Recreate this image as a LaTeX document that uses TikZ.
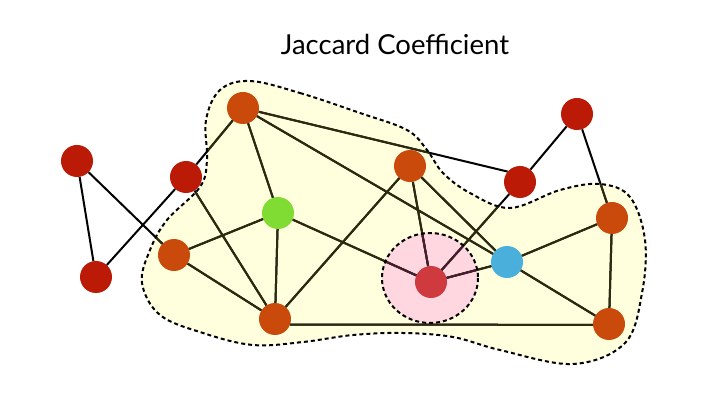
\documentclass[tikz,border=0pt]{standalone}
\usepackage{fontspec}
\setmainfont{Lato}
\definecolor{blobyellow}{RGB}{255,255,222}
\definecolor{pinkfill}{RGB}{255,215,225}
\definecolor{nred}{RGB}{186,26,6}
\definecolor{norange}{RGB}{201,74,11}
\definecolor{ngreen}{RGB}{128,220,50}
\definecolor{nblue}{RGB}{75,175,220}
\definecolor{ncenter}{RGB}{207,58,62}
\definecolor{edgeolive}{RGB}{45,42,16}
\definecolor{edgepurple}{RGB}{70,30,45}
\tikzset{
  vtx/.style={circle, inner sep=0pt, minimum size=32pt},
  edgeline/.style={line width=2pt},
  blobline/.style={line width=2pt, dash pattern=on 4pt off 3pt}
}
\def\blobpath{plot[smooth cycle, tension=0.6] coordinates {(250,81) (300,93) (360,113) (407,130) (427,150) (443,173) (470,193) (510,208) (560,190) (600,184) (630,197) (645,240) (642,293) (625,343) (573,364) (500,350) (453,337) (403,333) (353,335) (303,342) (253,345) (203,333) (160,315) (142,283) (150,250) (167,220) (200,187) (207,160) (206,120) (220,90)}}
\newcommand\alledges[1]{%
  \draw[edgeline,#1] (A)--(B) (A)--(E) (B)--(C) (C)--(D) (C)--(G)
    (D)--(F) (D)--(J.140) (D)--(L) (E)--(F) (E)--(G) (F)--(G) (F)--(I)
    (G)--(H) (G.-20)--(N.183) (H)--(I) (H)--(L) (J)--(I) (I)--(L) (J)--(K)
    (K)--(M) (L)--(M) (L)--(N) (M)--(N);}
\begin{document}
\begin{tikzpicture}[x=1pt,y=-1pt]
\useasboundingbox (0,0) rectangle (716,406);
\node[font=\fontsize{27.5}{32}\selectfont] (title) at (395,44) {Jaccard Coefficient};
\fill[blobyellow] \blobpath;
\fill[pinkfill] (430,278) ellipse [x radius=48, y radius=45];
% nodes
\node[vtx, fill=nred] (A) at (77,161) {};
\node[vtx, fill=nred] (B) at (96,277) {};
\node[vtx, fill=nred] (C) at (186,177) {};
\node[vtx, fill=norange] (D) at (243,108) {};
\node[vtx, fill=norange] (E) at (174,255) {};
\node[vtx, fill=ngreen] (F) at (278,213) {};
\node[vtx, fill=norange] (G) at (275,319) {};
\node[vtx, fill=norange] (H) at (410,166) {};
\node[vtx, fill=ncenter] (I) at (431,282) {};
\node[vtx, fill=nred] (J) at (520,182) {};
\node[vtx, fill=nred] (K) at (577,114) {};
\node[vtx, fill=nblue] (L) at (507,262) {};
\node[vtx, fill=norange] (M) at (612,218) {};
\node[vtx, fill=norange] (N) at (609,324) {};
% edges
\alledges{black}
\begin{scope}
  \clip \blobpath;
  \alledges{edgeolive}
\end{scope}
\begin{scope}
  \clip (430,278) ellipse [x radius=48, y radius=45];
  \alledges{edgepurple}
\end{scope}
\draw[blobline] \blobpath;
\draw[blobline] (430,278) ellipse [x radius=48, y radius=45];
\end{tikzpicture}
\end{document}
